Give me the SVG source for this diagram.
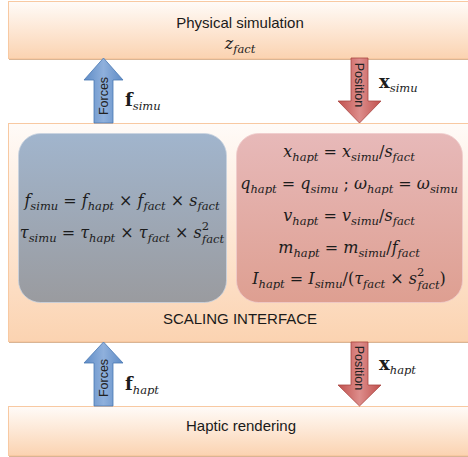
<svg xmlns="http://www.w3.org/2000/svg" width="468" height="457" viewBox="0 0 468 457">
  <defs>
    <linearGradient id="peach" x1="0" y1="0" x2="0" y2="1">
      <stop offset="0" stop-color="#fffbf8"/>
      <stop offset="1" stop-color="#fbd3b1"/>
    </linearGradient>
    <linearGradient id="blueBox" x1="0" y1="0" x2="0" y2="1">
      <stop offset="0" stop-color="#a1b5cd"/>
      <stop offset="1" stop-color="#9a9b9f"/>
    </linearGradient>
    <linearGradient id="pinkBox" x1="0" y1="0" x2="0" y2="1">
      <stop offset="0" stop-color="#e7b9b9"/>
      <stop offset="1" stop-color="#de9f91"/>
    </linearGradient>
    <linearGradient id="blueArrow" x1="0" y1="0" x2="1" y2="0">
      <stop offset="0" stop-color="#5f8cc6"/>
      <stop offset="0.5" stop-color="#8fb0dc"/>
      <stop offset="1" stop-color="#5f8cc6"/>
    </linearGradient>
    <linearGradient id="redArrow" x1="0" y1="0" x2="1" y2="0">
      <stop offset="0" stop-color="#c0504d"/>
      <stop offset="0.5" stop-color="#dd8d8b"/>
      <stop offset="1" stop-color="#c0504d"/>
    </linearGradient>
  </defs>
  <style>
    .layer { fill: url(#peach); stroke: #f8c9a2; stroke-width: 1; }
    .shadow { fill: #d9b595; }
    .label { font-family: "Liberation Sans", "Open Sans", sans-serif; font-size: 15px; fill: #1a1a1a; text-anchor: middle; }
    .arrowTxt { font-family: "Liberation Sans", "Open Sans", sans-serif; font-size: 12.5px; fill: #222; text-anchor: middle; }
    .math { font-family: "DejaVu Serif", "Liberation Serif", serif; font-size: 16px; fill: #1c1c1c; font-style: italic; }
    .eq { text-anchor: middle; }
    .up { font-style: normal; }
    .sub { font-size: 11.5px; }
    .bold { font-weight: bold; font-style: normal; font-size: 18px; }
    .blueA { fill: url(#blueArrow); stroke: #4a79b3; stroke-width: 0.8; }
    .redA { fill: url(#redArrow); stroke: #a94643; stroke-width: 0.8; }
  </style>

  <!-- top layer: physical simulation -->
  <g id="physical-simulation">
    <rect class="shadow" x="9" y="58" width="462" height="2"/>
    <rect class="layer" x="8.5" y="1.5" width="462" height="57"/>
    <text class="label" x="240" y="28">Physical simulation</text>
    <text class="math eq" x="240" y="49">z<tspan class="sub" dy="4">fact</tspan></text>
  </g>

  <!-- middle layer: scaling interface -->
  <g id="scaling-interface">
    <rect class="shadow" x="9" y="341" width="462" height="2"/>
    <rect class="layer" x="8.5" y="123.5" width="462" height="218"/>
    <text class="label" x="240" y="324">SCALING INTERFACE</text>
  </g>

  <!-- force scaling panel -->
  <g id="force-scaling">
    <rect x="18.5" y="133.5" width="208" height="169" rx="22" fill="url(#blueBox)" stroke="#c9d3df" stroke-width="0.8"/>
    <text class="math eq" x="122" y="206">f<tspan class="sub" dy="4">simu</tspan><tspan class="up" dy="-4"> = </tspan>f<tspan class="sub" dy="4">hapt</tspan><tspan class="up" dy="-4"> × </tspan>f<tspan class="sub" dy="4">fact</tspan><tspan class="up" dy="-4"> × </tspan>s<tspan class="sub" dy="4">fact</tspan></text>
    <text class="math eq" x="122" y="238">τ<tspan class="sub" dy="4">simu</tspan><tspan class="up" dy="-4"> = </tspan>τ<tspan class="sub" dy="4">hapt</tspan><tspan class="up" dy="-4"> × </tspan>τ<tspan class="sub" dy="4">fact</tspan><tspan class="up" dy="-4"> × </tspan>s<tspan class="sub up" dy="-8">2</tspan><tspan class="sub" dx="-7" dy="13">fact</tspan></text>
  </g>

  <!-- motion scaling panel -->
  <g id="motion-scaling">
    <rect x="236.5" y="133.5" width="226" height="169" rx="22" fill="url(#pinkBox)" stroke="#efcccc" stroke-width="0.8"/>
    <text class="math eq" x="349" y="157">x<tspan class="sub" dy="4">hapt</tspan><tspan class="up" dy="-4"> = </tspan>x<tspan class="sub" dy="4">simu</tspan><tspan class="up" dy="-4">/</tspan>s<tspan class="sub" dy="4">fact</tspan></text>
    <text class="math eq" x="349" y="189">q<tspan class="sub" dy="4">hapt</tspan><tspan class="up" dy="-4"> = </tspan>q<tspan class="sub" dy="4">simu</tspan><tspan class="up" dy="-4"> ; </tspan>ω<tspan class="sub" dy="4">hapt</tspan><tspan class="up" dy="-4"> = </tspan>ω<tspan class="sub" dy="4">simu</tspan></text>
    <text class="math eq" x="349" y="221">v<tspan class="sub" dy="4">hapt</tspan><tspan class="up" dy="-4"> = </tspan>v<tspan class="sub" dy="4">simu</tspan><tspan class="up" dy="-4">/</tspan>s<tspan class="sub" dy="4">fact</tspan></text>
    <text class="math eq" x="349" y="253">m<tspan class="sub" dy="4">hapt</tspan><tspan class="up" dy="-4"> = </tspan>m<tspan class="sub" dy="4">simu</tspan><tspan class="up" dy="-4">/</tspan>f<tspan class="sub" dy="4">fact</tspan></text>
    <text class="math eq" x="349" y="284">I<tspan class="sub" dy="4">hapt</tspan><tspan class="up" dy="-4"> = </tspan>I<tspan class="sub" dy="4">simu</tspan><tspan class="up" dy="-4">/(</tspan>τ<tspan class="sub" dy="4">fact</tspan><tspan class="up" dy="-4"> × </tspan>s<tspan class="sub up" dy="-8">2</tspan><tspan class="sub" dx="-7" dy="13">fact</tspan><tspan class="up" dy="-5">)</tspan></text>
  </g>

  <!-- bottom layer: haptic rendering -->
  <g id="haptic-rendering">
    <rect class="shadow" x="9" y="455" width="462" height="2"/>
    <rect class="layer" x="8.5" y="406.5" width="462" height="49"/>
    <text class="label" x="241" y="431">Haptic rendering</text>
  </g>

  <!-- connectors: force and position arrows -->
  <g id="connectors">
    <path class="blueA" d="M103.5,58 L123,80 L113,80 L113,123 L94,123 L94,80 L84,80 Z"/>
    <text class="arrowTxt" transform="translate(108,96) rotate(-90)">Forces</text>
    <text class="math" x="125" y="106"><tspan class="bold">f</tspan><tspan class="sub" dy="4">simu</tspan></text>

    <path class="redA" d="M351,58 L368,58 L368,101 L381,101 L359.5,123 L338,101 L351,101 Z"/>
    <text class="arrowTxt" transform="translate(355,85) rotate(90)">Position</text>
    <text class="math" x="379" y="88"><tspan class="bold">x</tspan><tspan class="sub" dy="4">simu</tspan></text>

    <path class="blueA" d="M103.5,342 L123,363 L113,363 L113,406 L94,406 L94,363 L84,363 Z"/>
    <text class="arrowTxt" transform="translate(108,378) rotate(-90)">Forces</text>
    <text class="math" x="125" y="390"><tspan class="bold">f</tspan><tspan class="sub" dy="4">hapt</tspan></text>

    <path class="redA" d="M351,342 L368,342 L368,385 L381,385 L359.5,406 L338,385 L351,385 Z"/>
    <text class="arrowTxt" transform="translate(355,368) rotate(90)">Position</text>
    <text class="math" x="379" y="370"><tspan class="bold">x</tspan><tspan class="sub" dy="4">hapt</tspan></text>
  </g>
</svg>
